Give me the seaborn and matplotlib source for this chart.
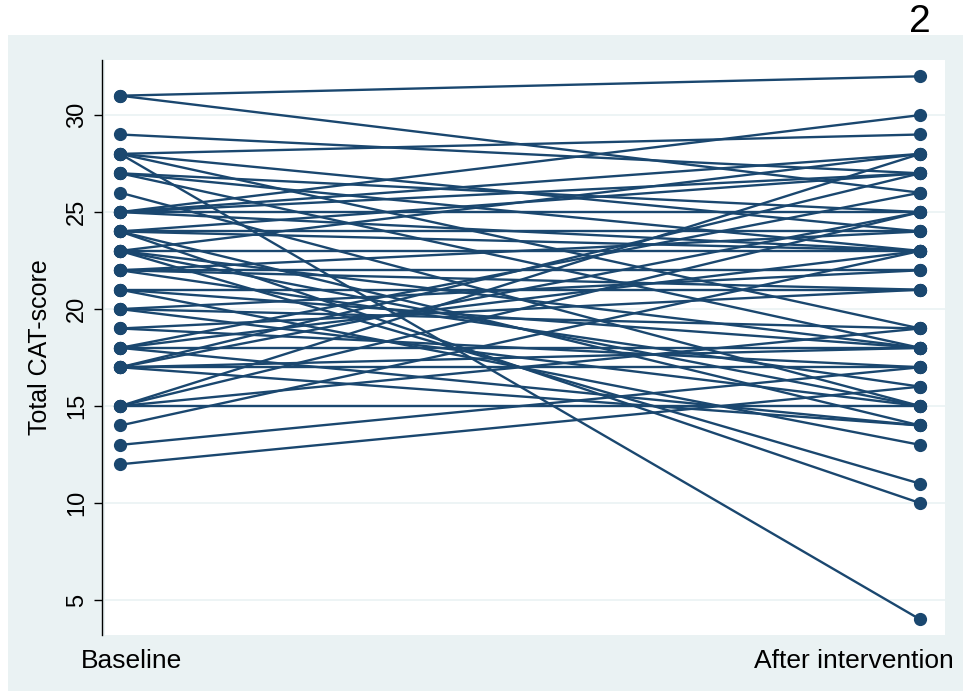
import numpy as np
import pandas as pd
import seaborn as sns
import matplotlib.pyplot as plt
from matplotlib.transforms import ScaledTranslation

# paired CAT scores (baseline -> after intervention)
baseline = [31, 31, 29, 28, 28, 28, 28, 27, 27, 27, 26, 25, 25, 25, 25, 25,
            24, 24, 24, 24, 24, 23, 23, 23, 23, 23, 22, 22, 22, 22, 21, 21,
            21, 20, 20, 20, 19, 19, 18, 18, 18, 18, 17, 17, 17, 17, 17, 15,
            15, 15, 15, 14, 13, 12]
after = [32, 26, 27, 29, 4, 19, 24, 25, 23, 18, 15, 30, 27, 28, 25, 23,
         27, 24, 23, 14, 10, 28, 23, 18, 15, 11, 22, 21, 24, 16, 18, 21,
         13, 22, 19, 15, 21, 17, 26, 18, 14, 23, 27, 25, 18, 17, 14, 25,
         19, 15, 28, 23, 17, 16]
time_labels = ["Baseline", "After intervention"]
y_ticks = [5, 10, 15, 20, 25, 30]

NAVY = "#1a476f"
PANEL = "#eaf2f3"

plt.rcParams["font.family"] = ["Liberation Sans", "DejaVu Sans"]

n = len(baseline)
df = pd.DataFrame({
    "id": list(range(n)) * 2,
    "time": [0] * n + [1] * n,
    "score": baseline + after,
})

W, H = 963, 691
fig = plt.figure(figsize=(W / 100, H / 100), dpi=100, facecolor="white")

# light outer panel behind the plot region
bg = fig.add_axes([8 / W, 0, 1 - 8 / W, 1 - 35 / H], zorder=-10)
bg.set_facecolor(PANEL)
bg.set_xticks([])
bg.set_yticks([])
for s in bg.spines.values():
    s.set_visible(False)

fig.text(920 / W, 1 - 22 / H, "2", fontsize=28, ha="center", va="center")

ax = fig.add_axes([105 / W, 1 - 635 / H, 840 / W, 575 / H])
ax.set_facecolor("white")
for y in y_ticks:
    ax.axhline(y, color=PANEL, lw=1.2, zorder=0)

sns.lineplot(data=df, x="time", y="score", units="id", estimator=None,
             color=NAVY, lw=1.7, marker="o", markersize=9.5,
             markeredgewidth=0, ax=ax, legend=False)

ax.set_xlim(-0.019, 1.031)
ax.set_ylim(3.2, 32.84)

for s in ["top", "right", "bottom"]:
    ax.spines[s].set_visible(False)
ax.spines["left"].set_color("black")
ax.spines["left"].set_linewidth(1)
ax.spines["left"].set_position(("outward", 2))

ax.set_yticks(y_ticks)
ax.set_yticklabels([str(v) for v in y_ticks], rotation=90, va="center",
                   fontsize=17)
ax.tick_params(axis="y", length=6, width=1, pad=4)
ax.set_ylabel("Total CAT-score", fontsize=18, labelpad=10)

ax.set_xticks([0, 1])
ax.set_xticklabels(time_labels, fontsize=19)
ax.tick_params(axis="x", length=0, pad=10)
ax.set_xlabel("")
labs = ax.get_xticklabels()
labs[0].set_transform(labs[0].get_transform() +
                      ScaledTranslation(0.11, 0, fig.dpi_scale_trans))
labs[1].set_transform(labs[1].get_transform() +
                      ScaledTranslation(-0.66, 0, fig.dpi_scale_trans))

fig.savefig("out.png", dpi=100, facecolor="white")
